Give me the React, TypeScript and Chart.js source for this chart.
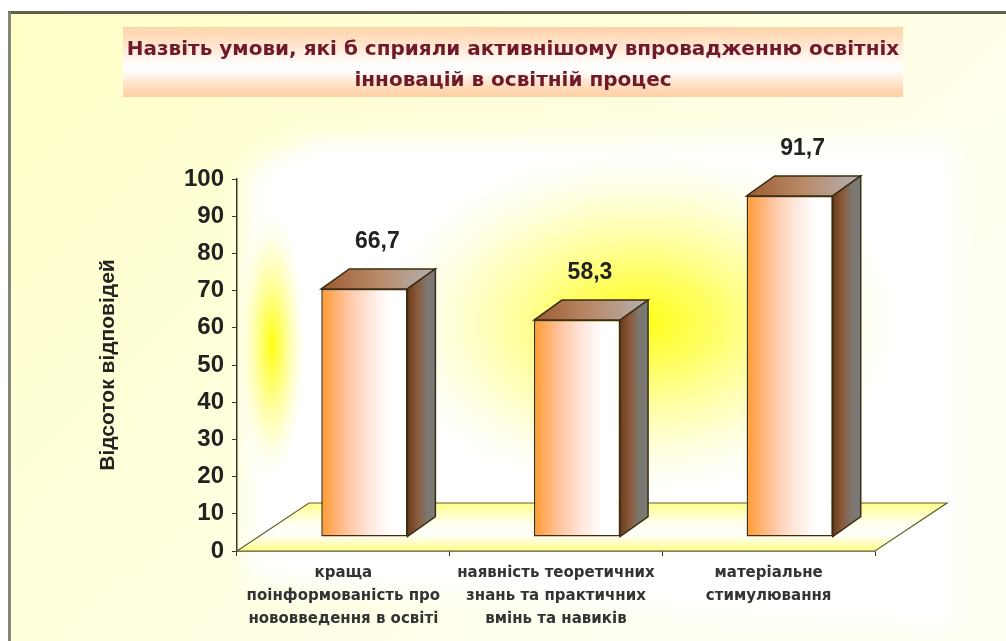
import React, { useEffect, useRef } from "react";
import { Chart, registerables } from "chart.js";

Chart.register(...registerables);

const titleLines = [
  "Назвіть умови, які б сприяли активнішому впровадженню освітніх",
  "інновацій в освітній процес",
];
const yAxisTitle = "Відсоток відповідей";
const categories = [
  ["краща", "поінформованість про", "нововведення в освіті"],
  ["наявність теоретичних", "знань та практичних", "вмінь та навиків"],
  ["матеріальне", "стимулювання"],
];
const values = [66.7, 58.3, 91.7];
const valueLabels = ["66,7", "58,3", "91,7"];
const yMin = 0;
const yMax = 100;
const yStep = 10;

const BAR = { dx: 21, dy: -14, depthX: 28, depthY: -20 };
const FLOOR = { dx: 72, dy: -48 };
const LINE = "#3d2e12";

const scene = {
  id: "scene",
  beforeDraw(chart: any) {
    const { ctx, width, height, chartArea: a } = chart;
    ctx.save();
    ctx.fillStyle = "#ffffff";
    ctx.fillRect(0, 0, width, height);
    const bg = ctx.createLinearGradient(0, 12, 620, height);
    bg.addColorStop(0, "#ffffc6");
    bg.addColorStop(0.5, "#ffffdc");
    bg.addColorStop(1, "#fffff2");
    ctx.fillStyle = bg;
    ctx.fillRect(10, 13, width - 10, height - 13);
    ctx.fillStyle = "#5e5f4c";
    ctx.fillRect(8, 11, width - 8, 3);
    ctx.fillStyle = "#85867a";
    ctx.fillRect(8, 12, 3, height - 12);

    // title band
    const band = ctx.createLinearGradient(0, 27, 0, 97);
    band.addColorStop(0, "#ffd3a8");
    band.addColorStop(0.3, "#ffe8d4");
    band.addColorStop(0.55, "#ffffff");
    band.addColorStop(0.62, "#ffffff");
    band.addColorStop(0.85, "#ffdcbc");
    band.addColorStop(1, "#ffd0a4");
    ctx.fillStyle = band;
    ctx.fillRect(123, 27, 780, 70);

    // back wall
    ctx.save();
    ctx.filter = "blur(12px)";
    ctx.fillStyle = "#ffffff";
    ctx.beginPath();
    ctx.moveTo(a.left + 10, a.bottom);
    ctx.lineTo(a.left + 10, a.top - 10);
    ctx.lineTo(a.left + FLOOR.dx, a.top + FLOOR.dy + 8);
    ctx.lineTo(a.right + FLOOR.dx + 10, a.top + FLOOR.dy + 8);
    ctx.lineTo(a.right + FLOOR.dx + 10, height - 10);
    ctx.lineTo(a.left + 10, height - 60);
    ctx.closePath();
    ctx.fill();
    ctx.restore();

    const glow = (cx: number, cy: number, rx: number, ry: number) => {
      ctx.save();
      ctx.translate(cx, cy);
      ctx.scale(rx, ry);
      const g = ctx.createRadialGradient(0, 0, 0, 0, 0, 1);
      g.addColorStop(0, "rgba(255,255,20,1)");
      g.addColorStop(0.3, "rgba(255,255,70,0.8)");
      g.addColorStop(0.65, "rgba(255,255,150,0.5)");
      g.addColorStop(1, "rgba(255,255,220,0)");
      ctx.fillStyle = g;
      ctx.beginPath();
      ctx.arc(0, 0, 1, 0, Math.PI * 2);
      ctx.fill();
      ctx.restore();
    };
    glow(272, 345, 34, 135);
    glow(640, 322, 265, 175);
    ctx.restore();
  },
  beforeDatasetsDraw(chart: any) {
    const { ctx, chartArea: a } = chart;
    const x0 = a.left, x1 = a.right, y0 = a.bottom;
    ctx.save();
    const f = ctx.createLinearGradient(0, y0 + FLOOR.dy, 0, y0);
    f.addColorStop(0, "#ffff88");
    f.addColorStop(0.4, "#ffffea");
    f.addColorStop(0.65, "#ffffff");
    f.addColorStop(1, "#ffff88");
    ctx.fillStyle = f;
    ctx.beginPath();
    ctx.moveTo(x0, y0);
    ctx.lineTo(x0 + FLOOR.dx, y0 + FLOOR.dy);
    ctx.lineTo(x1 + FLOOR.dx, y0 + FLOOR.dy);
    ctx.lineTo(x1, y0);
    ctx.closePath();
    ctx.fill();
    ctx.strokeStyle = "#5f5f2c";
    ctx.lineWidth = 1.2;
    ctx.stroke();
    ctx.restore();
  },
  beforeDatasetDraw(chart: any, args: any) {
    const { ctx } = chart;
    const meta = chart.getDatasetMeta(args.index);
    ctx.save();
    ctx.translate(BAR.dx, BAR.dy);
    meta.data.forEach((el: any) => {
      const l = el.x - el.width / 2, r = el.x + el.width / 2, t = el.y, b = el.base;
      const top = ctx.createLinearGradient(l, 0, r + BAR.depthX, 0);
      top.addColorStop(0, "#9c5a32");
      top.addColorStop(0.5, "#b98a68");
      top.addColorStop(1, "#b2b2b2");
      ctx.fillStyle = top;
      ctx.strokeStyle = LINE;
      ctx.lineWidth = 1.5;
      ctx.beginPath();
      ctx.moveTo(l, t);
      ctx.lineTo(l + BAR.depthX, t + BAR.depthY);
      ctx.lineTo(r + BAR.depthX, t + BAR.depthY);
      ctx.lineTo(r, t);
      ctx.closePath();
      ctx.fill();
      ctx.stroke();
      const side = ctx.createLinearGradient(r, 0, r + BAR.depthX, 0);
      side.addColorStop(0, "#6b3c1c");
      side.addColorStop(0.35, "#8a5a3a");
      side.addColorStop(0.7, "#7c7770");
      side.addColorStop(1, "#7a7a7a");
      ctx.fillStyle = side;
      ctx.beginPath();
      ctx.moveTo(r, t);
      ctx.lineTo(r + BAR.depthX, t + BAR.depthY);
      ctx.lineTo(r + BAR.depthX, b + BAR.depthY);
      ctx.lineTo(r, b);
      ctx.closePath();
      ctx.fill();
      ctx.stroke();
    });
  },
  afterDatasetDraw(chart: any) {
    chart.ctx.restore();
  },
  afterDatasetsDraw(chart: any) {
    const { ctx } = chart;
    const meta = chart.getDatasetMeta(0);
    ctx.save();
    ctx.font = "bold 23px 'Liberation Sans'";
    ctx.fillStyle = "#222222";
    ctx.textAlign = "center";
    ctx.textBaseline = "middle";
    meta.data.forEach((el: any, i: number) => {
      ctx.fillText(valueLabels[i], el.x + BAR.dx + 13, el.y + BAR.dy - 47);
    });
    ctx.restore();
  },
};

export default function App() {
  const ref = useRef<HTMLCanvasElement>(null);
  useEffect(() => {
    const chart = new Chart(ref.current as HTMLCanvasElement, {
      type: "bar",
      plugins: [scene],
      data: {
        labels: categories,
        datasets: [
          {
            data: values,
            clip: false,
            barPercentage: 0.405,
            categoryPercentage: 1,
            borderColor: LINE,
            borderWidth: 1.5,
            borderSkipped: false,
            backgroundColor: (c: any) => {
              const ch = c.chart;
              const sx = ch.scales.x;
              if (!sx || !ch.chartArea) return "#ffb070";
              const w = (sx.width / categories.length) * 0.405;
              const x = sx.getPixelForTick(c.dataIndex);
              const g = ch.ctx.createLinearGradient(x - w / 2, 0, x + w / 2, 0);
              g.addColorStop(0, "#ff9a30");
              g.addColorStop(0.3, "#ffc4a0");
              g.addColorStop(0.55, "#ffe6da");
              g.addColorStop(0.8, "#ffffff");
              g.addColorStop(1, "#ffffff");
              return g;
            },
          } as any,
        ],
      },
      options: {
        responsive: false,
        animation: false,
        layout: { padding: { top: 34, left: 20, right: 0, bottom: 0 } },
        plugins: {
          legend: { display: false },
          tooltip: { enabled: false },
          title: {
            display: true,
            text: titleLines,
            color: "#6e1a2a",
            font: { family: "'DejaVu Sans'", size: 20, weight: "bold", lineHeight: "31px" },
            padding: { top: 0, bottom: 83 },
            align: "center",
            fullSize: true,
          },
        },
        scales: {
          x: {
            offset: true,
            afterFit: (s: any) => { s.height = 90; },
            border: { color: "#3a3a20", width: 1.5 },
            grid: { display: true, drawOnChartArea: false, drawTicks: true, tickLength: 5, color: "#3a3a20" },
            ticks: {
              autoSkip: false,
              maxRotation: 0,
              minRotation: 0,
              padding: 6,
              color: "#333333",
              font: { family: "'DejaVu Sans'", size: 15, weight: "bold", lineHeight: "23px" },
            },
          },
          y: {
            min: yMin,
            max: yMax,
            afterFit: (s: any) => { s.width = 217; },
            border: { color: "#3a3a20", width: 1.5 },
            grid: { display: true, drawOnChartArea: false, drawTicks: true, tickLength: 5, color: "#3a3a20" },
            ticks: {
              stepSize: yStep,
              padding: 8,
              color: "#222222",
              font: { family: "'Liberation Sans'", size: 24, weight: "bold" },
            },
            title: {
              display: true,
              text: yAxisTitle,
              color: "#222222",
              font: { family: "'Liberation Sans'", size: 21, weight: "bold" },
              padding: { top: 76, bottom: 0 },
            },
          },
          spacer: {
            type: "linear",
            position: "right",
            display: true,
            afterFit: (s: any) => { s.width = 131; },
            border: { display: false },
            grid: { display: false },
            ticks: { display: false },
          },
        },
      },
    } as any);
    return () => chart.destroy();
  }, []);
  return (
    <div style={{ position: "absolute", left: 0, top: 0, width: 1006, height: 641, overflow: "hidden" }}>
      <canvas ref={ref} width={1006} height={641} style={{ display: "block", filter: "blur(0.6px)" }} />
    </div>
  );
}
